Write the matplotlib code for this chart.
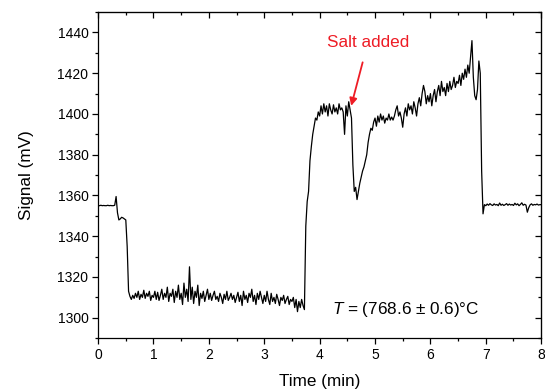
import numpy as np
import matplotlib
matplotlib.use("Agg")
import matplotlib.pyplot as plt
from matplotlib.ticker import MultipleLocator

plt.rcParams['font.family'] = ['Liberation Sans', 'DejaVu Sans']
plt.rcParams['mathtext.fontset'] = 'custom'
plt.rcParams['mathtext.rm'] = 'Liberation Sans'
plt.rcParams['mathtext.it'] = 'Liberation Sans:italic'

# signal, one value every 0.025 min (rows of 0.5 min)
signal = [
    1355, 1355, 1355.2, 1355, 1355.1, 1355, 1355, 1355.2, 1355, 1355.1,
    1355, 1355, 1355.2, 1359.5, 1351.5, 1348, 1348.5, 1349.3, 1349, 1348.5,
    # 0.5
    1348, 1335, 1313, 1310.5, 1309, 1311, 1309.5, 1312, 1310, 1313,
    1309, 1311.5, 1310, 1313.5, 1309.5, 1312, 1310.5, 1313, 1308.5, 1311,
    # 1.0
    1310, 1313, 1309, 1312.5, 1308.5, 1311, 1314, 1309, 1312, 1310,
    1315, 1308, 1312, 1310.5, 1314, 1307.5, 1313, 1310, 1316, 1309,
    # 1.5
    1312, 1306.5, 1317, 1310, 1314, 1308, 1325, 1309, 1315, 1307,
    1313, 1310, 1316, 1306, 1312, 1309.5, 1313, 1308, 1311, 1314,
    # 2.0
    1309, 1312, 1308.5, 1311, 1313, 1309, 1310.5, 1308, 1312, 1310,
    1307, 1311.5, 1309, 1313, 1308.5, 1310, 1312, 1309, 1311, 1307.5,
    # 2.5
    1310, 1312.5, 1308, 1311, 1306, 1313, 1309, 1311, 1307.5, 1312,
    1310, 1314, 1308, 1311, 1306.5, 1312, 1309, 1313, 1310, 1307,
    # 3.0
    1311, 1308, 1313, 1309, 1306.5, 1312, 1308, 1310, 1307, 1311.5,
    1309, 1306, 1310, 1308.5, 1311, 1307, 1309, 1310.5, 1306.5, 1309,
    # 3.5
    1308, 1310, 1305, 1309, 1303, 1308, 1305, 1309, 1306, 1304,
    1345, 1357, 1362, 1377, 1384, 1390, 1394, 1398, 1397, 1401,
    # 4.0
    1399, 1404, 1400, 1405, 1401, 1404, 1399, 1405, 1402, 1400,
    1404.5, 1401, 1403, 1400, 1405, 1402, 1403, 1401, 1390, 1404,
    # 4.5
    1399, 1406, 1402, 1398, 1375, 1362, 1364, 1358, 1362, 1366,
    1369, 1372, 1374, 1377, 1380, 1386, 1390, 1393, 1392, 1396,
    # 5.0
    1398, 1394, 1399, 1396, 1400, 1397, 1399, 1395.5, 1398, 1397,
    1400, 1397, 1398.5, 1397, 1399, 1402, 1404, 1399, 1401, 1398,
    # 5.5
    1393.5, 1400, 1403, 1399, 1405, 1402, 1404, 1400, 1406, 1403,
    1399, 1405, 1408, 1404, 1410, 1414, 1411, 1405, 1409, 1406,
    # 6.0
    1410, 1404, 1409, 1412, 1406, 1411, 1414, 1409, 1416, 1411,
    1413, 1409, 1415, 1411, 1416, 1412, 1414, 1418, 1413, 1416,
    # 6.5
    1415, 1419, 1414, 1420, 1417, 1422, 1418, 1424, 1420, 1428,
    1436, 1418, 1409, 1407, 1412, 1426, 1420, 1372, 1351, 1355.5,
    # 7.0
    1355, 1355.8, 1355.2, 1356, 1355.4, 1355.1, 1355.9, 1355.3, 1355.6, 1355,
    1356.3, 1355.2, 1355.7, 1355.1, 1355.5, 1356, 1355.2, 1355.8, 1355.3, 1355.6,
    # 7.5
    1355.1, 1356.2, 1355.4, 1355.9, 1355, 1355.6, 1356.4, 1355.2, 1355.7, 1355.3,
    1351.8, 1354, 1355.4, 1355.9, 1355.2, 1355.6, 1355.4, 1355.8, 1355.3, 1355.5,
    # 8.0
    1355.5,
]
dt = 0.025
time = np.arange(len(signal)) * dt

fig = plt.figure(figsize=(5.45, 3.9), dpi=100)
ax = fig.add_axes([0.18, 0.133, 0.813, 0.836])
ax.plot(time, signal, color='black', linewidth=0.9)

ax.set_xlim(0, 8)
ax.set_ylim(1290, 1450)
ax.xaxis.set_major_locator(MultipleLocator(1))
ax.xaxis.set_minor_locator(MultipleLocator(0.5))
ax.yaxis.set_major_locator(MultipleLocator(20))
ax.yaxis.set_minor_locator(MultipleLocator(10))
ax.set_yticks(np.arange(1300, 1441, 20))
ax.tick_params(which='both', direction='out', labelsize=10, width=0.9, pad=3)
ax.tick_params(which='major', length=4)
ax.tick_params(which='minor', length=2.5)
for s in ax.spines.values():
    s.set_linewidth(0.9)

# mirrored inward ticks on top/right
secx = ax.secondary_xaxis('top')
secx.xaxis.set_major_locator(MultipleLocator(1))
secx.xaxis.set_minor_locator(MultipleLocator(0.5))
secx.tick_params(which='both', direction='in', labeltop=False, width=0.9)
secx.tick_params(which='major', length=4)
secx.tick_params(which='minor', length=2.5)
secy = ax.secondary_yaxis('right')
secy.yaxis.set_major_locator(MultipleLocator(20))
secy.yaxis.set_minor_locator(MultipleLocator(10))
secy.tick_params(which='both', direction='in', labelright=False, width=0.9)
secy.tick_params(which='major', length=4)
secy.tick_params(which='minor', length=2.5)

ax.set_xlabel('Time (min)', fontsize=12.3, labelpad=9)
ax.set_ylabel('Signal (mV)', fontsize=12.3, labelpad=17)

ax.annotate('Salt added', xy=(4.57, 1404), xytext=(4.87, 1435),
            color='#ee1c25', fontsize=12.3, ha='center', va='center',
            arrowprops=dict(arrowstyle='-|>', color='#ee1c25', lw=1.3,
                            mutation_scale=11, shrinkA=7, shrinkB=0))
ax.text(4.22, 1304, r'$T$ = (768.6 ± 0.6)°C', fontsize=12.3, va='center')

fig.savefig('out.png', dpi=100)
